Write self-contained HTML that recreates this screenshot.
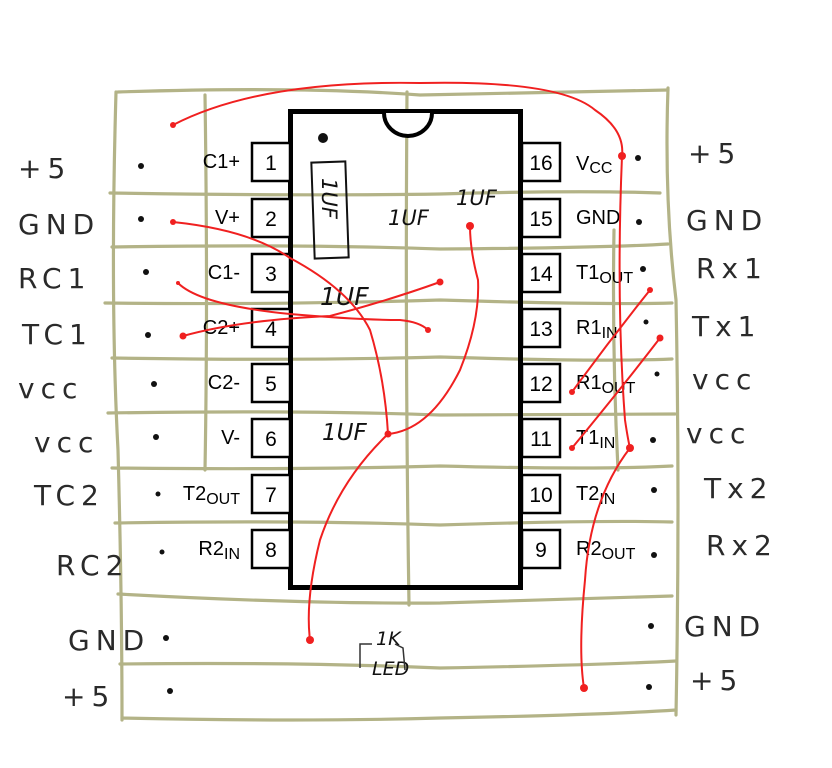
<!DOCTYPE html>
<html><head><meta charset="utf-8"><style>
html,body{margin:0;padding:0;background:#fff;}
svg{display:block;}
.g{stroke:#b3b387;stroke-width:3.2;fill:none;stroke-linecap:round;}
.r{stroke:#f02020;stroke-width:2;fill:none;}
.hw{font-family:"DejaVu Sans","Liberation Sans",sans-serif;font-size:28px;fill:#2a2a2a;letter-spacing:6px;}
.pl{font-family:"Liberation Sans",sans-serif;font-size:20px;fill:#000;}
.pn{font-family:"Liberation Sans",sans-serif;font-size:21px;fill:#000;}
.hs{font-family:"DejaVu Sans","Liberation Sans",sans-serif;font-size:21px;fill:#111;font-style:italic;}
</style></head><body>
<svg width="832" height="768" viewBox="0 0 832 768" xmlns="http://www.w3.org/2000/svg">
<path class="g" d="M118 92 Q300 86 420 95 Q560 92 668 90"/>
<path class="g" d="M110 193 Q300 196 440 194 Q580 190 660 193"/>
<path class="g" d="M112 247 Q300 244 440 249 Q600 248 668 244"/>
<path class="g" d="M105 303 Q280 305 440 300 Q600 305 672 303"/>
<path class="g" d="M112 358 Q300 361 440 357 Q600 362 672 359"/>
<path class="g" d="M108 413 Q300 410 440 415 Q600 414 675 414"/>
<path class="g" d="M112 468 Q300 470 440 466 Q600 470 672 466"/>
<path class="g" d="M115 523 Q300 520 440 525 Q600 520 672 522"/>
<path class="g" d="M118 594 Q300 604 440 603 Q600 598 672 596"/>
<path class="g" d="M120 664 Q300 662 440 668 Q600 665 676 661"/>
<path class="g" d="M122 718 Q300 722 440 718 Q600 715 676 710"/>
<path class="g" d="M116 92 Q110 300 118 450 Q122 600 122 720"/>
<path class="g" d="M205 95 Q208 300 205 470"/>
<path class="g" d="M407 92 Q405 350 409 605"/>
<path class="g" d="M614 230 Q612 350 618 470"/>
<path class="g" d="M668 88 Q664 200 676 300 Q680 500 676 715"/>
<rect x="290.5" y="111.5" width="230" height="476" fill="none" stroke="#000" stroke-width="5"/>
<path d="M384 113 A23 22 0 0 0 432 113" fill="#fff" stroke="#000" stroke-width="4"/>
<circle cx="323" cy="138" r="5" fill="#111"/>
<g fill="#fff" stroke="#000" stroke-width="2.5">
<rect x="252" y="143" width="38" height="38"/><rect x="252" y="199" width="38" height="38"/>
<rect x="252" y="254" width="38" height="38"/><rect x="252" y="309" width="38" height="38"/>
<rect x="252" y="364" width="38" height="38"/><rect x="252" y="419" width="38" height="38"/>
<rect x="252" y="475" width="38" height="38"/><rect x="252" y="530" width="38" height="38"/>
<rect x="522" y="143" width="38" height="38"/><rect x="522" y="199" width="38" height="38"/>
<rect x="522" y="254" width="38" height="38"/><rect x="522" y="309" width="38" height="38"/>
<rect x="522" y="364" width="38" height="38"/><rect x="522" y="419" width="38" height="38"/>
<rect x="522" y="475" width="38" height="38"/><rect x="522" y="530" width="38" height="38"/>
</g>
<g class="pn" text-anchor="middle">
<text x="271" y="170">1</text><text x="271" y="226">2</text><text x="271" y="281">3</text><text x="271" y="336">4</text>
<text x="271" y="391">5</text><text x="271" y="446">6</text><text x="271" y="502">7</text><text x="271" y="557">8</text>
<text x="541" y="170">16</text><text x="541" y="226">15</text><text x="541" y="281">14</text><text x="541" y="336">13</text>
<text x="541" y="391">12</text><text x="541" y="446">11</text><text x="541" y="502">10</text><text x="541" y="557">9</text>
</g>
<g class="pl" text-anchor="end">
<text x="240" y="168">C1+</text><text x="240" y="224">V+</text><text x="240" y="279">C1-</text><text x="240" y="334">C2+</text>
<text x="240" y="389">C2-</text><text x="240" y="444">V-</text>
<text x="240" y="500">T2<tspan font-size="16" dy="4">OUT</tspan></text>
<text x="240" y="555">R2<tspan font-size="16" dy="4">IN</tspan></text>
</g>
<g class="pl">
<text x="576" y="170">V<tspan font-size="16" dy="3">CC</tspan></text>
<text x="576" y="224">GND</text>
<text x="576" y="279">T1<tspan font-size="16" dy="4">OUT</tspan></text>
<text x="576" y="334">R1<tspan font-size="16" dy="4">IN</tspan></text>
<text x="576" y="389">R1<tspan font-size="16" dy="4">OUT</tspan></text>
<text x="576" y="444">T1<tspan font-size="16" dy="4">IN</tspan></text>
<text x="576" y="500">T2<tspan font-size="16" dy="4">IN</tspan></text>
<text x="576" y="555">R2<tspan font-size="16" dy="4">OUT</tspan></text>
</g>
<g class="hw">
<text x="18" y="178">+5</text><text x="18" y="234">GND</text><text x="18" y="288">RC1</text>
<text x="22" y="344">TC1</text><text x="18" y="398">vcc</text><text x="34" y="452">vcc</text>
<text x="34" y="505">TC2</text><text x="56" y="575">RC2</text><text x="68" y="650">GND</text>
<text x="62" y="706">+5</text>
<text x="688" y="163">+5</text><text x="686" y="230">GND</text><text x="696" y="278">Rx1</text>
<text x="692" y="336">Tx1</text><text x="692" y="389">vcc</text><text x="686" y="443">vcc</text>
<text x="704" y="498">Tx2</text><text x="706" y="555">Rx2</text><text x="684" y="636">GND</text>
<text x="690" y="690">+5</text>
</g>
<g class="hs">
<text x="388" y="225">1UF</text><text x="456" y="205">1UF</text>
<text x="320" y="305" font-size="25">1UF</text><text x="322" y="440" font-size="23">1UF</text>
<text x="376" y="645" font-size="19">1K</text><text x="372" y="675" font-size="19">LED</text>
</g>
<path d="M372 644 L360 644 L360 668 M395 644 L403 648 L405 670" stroke="#333" stroke-width="1.5" fill="none"/>
<rect x="313" y="162" width="34" height="96" fill="none" stroke="#111" stroke-width="2" transform="rotate(-2 330 210)"/>
<text class="hs" x="0" y="0" transform="translate(322,178) rotate(90)" font-size="26">1UF</text>
<g fill="#111">
<circle cx="141" cy="166" r="3"/><circle cx="141" cy="219" r="3"/><circle cx="146" cy="272" r="3"/>
<circle cx="148" cy="335" r="3"/><circle cx="154" cy="384" r="3"/><circle cx="156" cy="437" r="3"/>
<circle cx="158" cy="494" r="2.5"/><circle cx="162" cy="552" r="2.5"/><circle cx="166" cy="638" r="3"/>
<circle cx="170" cy="691" r="3"/>
<circle cx="638" cy="158" r="3"/><circle cx="639" cy="222" r="3"/><circle cx="643" cy="269" r="3"/>
<circle cx="646" cy="322" r="2.5"/><circle cx="657" cy="374" r="2.5"/><circle cx="653" cy="440" r="3"/>
<circle cx="654" cy="490" r="3"/><circle cx="654" cy="555" r="3"/><circle cx="651" cy="626" r="3"/>
<circle cx="649" cy="687" r="3"/>
</g>
<g class="r">
<path d="M173 125 Q260 80 420 83 Q560 80 595 110 Q625 130 622 156"/>
<path d="M622 156 Q616 300 625 420 Q628 440 630 448"/>
<path d="M630 448 Q590 500 585 580 Q578 650 584 688"/>
<path d="M173 222 Q250 230 290 258 Q350 290 370 330 Q385 380 388 434"/>
<path d="M388 434 Q430 430 460 370 Q480 320 478 280 Q470 250 470 226"/>
<path d="M388 434 Q340 480 320 540 Q305 600 310 640"/>
<path d="M178 283 Q200 305 290 314 Q360 320 400 320 Q420 322 428 330"/>
<path d="M183 336 Q240 320 330 316 Q390 300 440 282"/>
<path d="M572 392 Q610 340 650 290"/>
<path d="M572 448 Q620 390 660 338"/>
</g>
<g fill="#f02020">
<circle cx="173" cy="125" r="3"/><circle cx="622" cy="156" r="4"/><circle cx="630" cy="448" r="4"/>
<circle cx="584" cy="688" r="4"/><circle cx="173" cy="222" r="3"/><circle cx="388" cy="434" r="3.5"/>
<circle cx="470" cy="226" r="4"/><circle cx="310" cy="640" r="4"/><circle cx="428" cy="330" r="3"/>
<circle cx="183" cy="336" r="3.5"/><circle cx="440" cy="282" r="3.5"/><circle cx="572" cy="392" r="3"/>
<circle cx="650" cy="290" r="3"/><circle cx="572" cy="448" r="3"/><circle cx="660" cy="338" r="3.5"/>
<circle cx="178" cy="283" r="2"/>
</g>
</svg>
</body></html>
